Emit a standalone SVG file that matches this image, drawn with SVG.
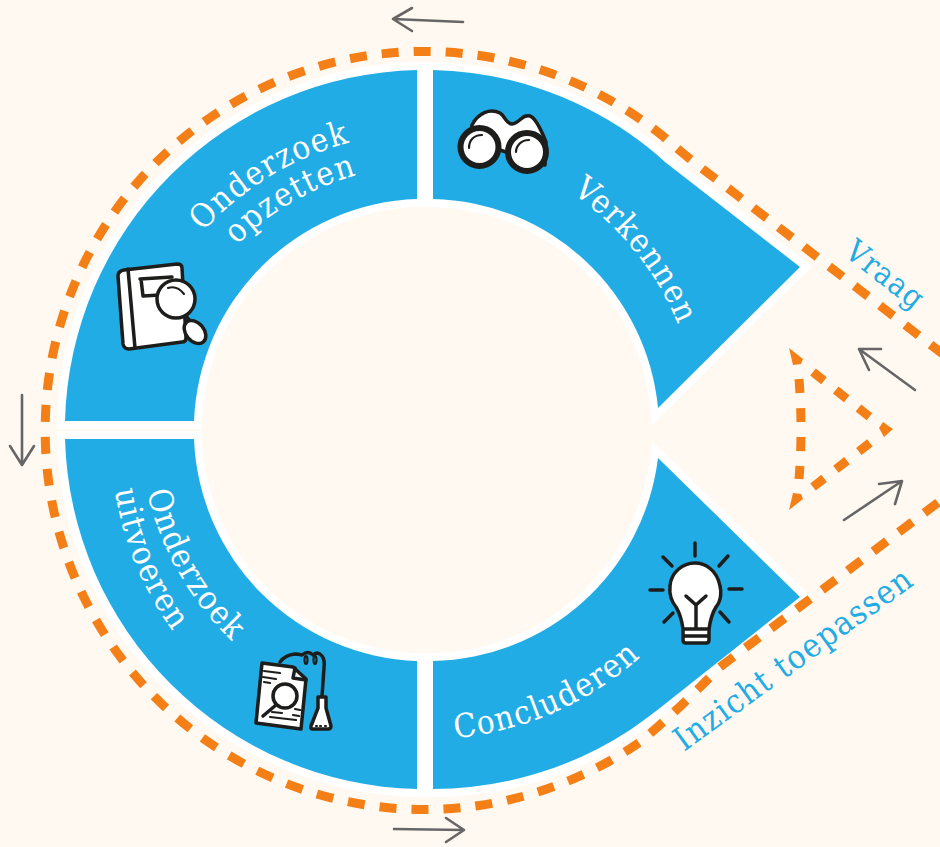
<svg xmlns="http://www.w3.org/2000/svg" width="940" height="847" viewBox="0 0 940 847">
<style>
.seg{fill:#22ace5;stroke:#fff;stroke-width:16;paint-order:stroke;stroke-linejoin:miter;stroke-miterlimit:10}
.dash{fill:none;stroke:#f47f16;stroke-width:9}
.tri{fill:#f47f16}
.arrow{fill:none;stroke:#666;stroke-width:2.600;stroke-linecap:round;stroke-linejoin:round}
.lab{font-family:"DejaVu Serif Condensed","DejaVu Serif","Liberation Serif",serif;font-size:33px;letter-spacing:1.300px;fill:#fff}
.out{font-family:"DejaVu Serif Condensed","DejaVu Serif","Liberation Serif",serif;font-size:33px;letter-spacing:1.300px;fill:#22ace5}
.ic{fill:#fff;stroke:#1d1d1b;stroke-width:3.500;stroke-linecap:round;stroke-linejoin:round}
.il{fill:none;stroke:#1d1d1b;stroke-width:3.500;stroke-linecap:round;stroke-linejoin:round}
.thin{fill:none;stroke:#1d1d1b;stroke-width:2.200;stroke-linecap:round}
</style>
<defs>
<path id="p1" d="M203 232A297 297 0 0 1 425 133"/>
<path id="p2" d="M237 245A264 264 0 0 1 425 166"/>
<path id="p3" d="M572 193A300 300 0 0 1 684 340"/>
<path id="p4" d="M455 738A320 320 0 0 0 690 600"/>
<path id="p5" d="M147 492A300 300 0 0 0 300 690"/>
<path id="p6" d="M115 490A320 320 0 0 0 290 730"/>
</defs>
<rect width="940" height="847" fill="#fff9f2"/>
<g id="verkennen">
<path class="seg" d="M433 70A360 360 0 0 1 630 134Q650 148 665 162L800 267L658 408A231 231 0 0 0 433 199Z"/>
<text class="lab"><textPath href="#p3">Verkennen</textPath></text>
<g id="binoculars">
<path class="ic" d="M472 125C478 113 490 108 500 113C505 116 506 124 512 124C520 123 522 114 530 116C536 118 542 132 546 142L545 165L500 150L470 140Z"/>
<circle cx="479.500" cy="147" r="19" fill="#fff" stroke="#1d1d1b" stroke-width="6"/>
<circle cx="527" cy="152" r="19" fill="#fff" stroke="#1d1d1b" stroke-width="6"/>
<path class="thin" stroke-width="3" d="M469 148C469 140 474 135 482 135M516 152C516 146 521 140 529 140"/>
</g>
</g>
<g id="onderzoek-opzetten">
<path class="seg" d="M417 70A360 360 0 0 0 65 421L194 421A231 231 0 0 1 417 199Z"/>
<text class="lab"><textPath href="#p1">Onderzoek</textPath></text>
<text class="lab"><textPath href="#p2">opzetten</textPath></text>
<g id="book">
<path class="ic" d="M124 270L177 264Q182 264 182 268L186 338Q186 342 182 342L129 349Q124 349 123 344L118 276Q118 271 124 270Z"/>
<path class="il" d="M128 269L135 348"/>
<path class="il" d="M140 279L172 277M141 279L143 296L160 295"/>
<circle class="ic" cx="176" cy="299" r="19"/>
<path class="il" d="M186 316L191 322"/>
<ellipse class="ic" cx="195" cy="332" rx="9" ry="13" transform="rotate(-40 195 332)"/>
<path class="thin" d="M168 288Q177 285 184 294"/>
</g>
</g>
<g id="onderzoek-uitvoeren">
<path class="seg" d="M65 439A360 360 0 0 0 417 789L417 661A231 231 0 0 1 194 439Z"/>
<text class="lab"><textPath href="#p5">Onderzoek</textPath></text>
<text class="lab"><textPath href="#p6">uitvoeren</textPath></text>
<g id="experiment">
<path class="il" d="M280 662Q285 655 295 654Q298 654 302 655Q308 650 313 655Q318 651 322 656Q325 660 324 668L322 696"/>
<path class="ic" d="M262 663L293 667L306 679L301 729L256 723Z"/>
<path class="il" d="M295 668L293 678L306 680"/>
<circle class="ic" fill="none" cx="285" cy="696" r="12"/>
<path class="il" d="M276 705L263 716"/>
<path class="thin" d="M264 671L280 673M263 677L276 679M264 682L270 683M270 717L296 720M272 712L282 713M295 709L300 710M293 715L299 716"/>
<ellipse class="thin" cx="306" cy="660" rx="1.500" ry="4"/>
<ellipse class="thin" cx="315" cy="660" rx="1.500" ry="4"/>
<path class="ic" d="M318 697L326 697L326 708L331 726Q331 729 328 729L313 729Q310 729 311 726L318 708Z"/>
<path class="thin" d="M316 726L317 726M320 726L321 726M325 726L326 726"/>
</g>
</g>
<g id="concluderen">
<path class="seg" d="M433 789A360 360 0 0 0 630 730Q650 716 665 704L800 597L658 458A231 231 0 0 1 433 661Z"/>
<text class="lab"><textPath href="#p4">Concluderen</textPath></text>
<g id="bulb">
<path class="ic" d="M683 629L683 640Q683 643 686 643L706 643Q709 643 709 640L709 629Q711 615 716 607C722 600 721 590 720 586C717 570 705 563 695 563C683 563 671 572 670 586C669 595 672 602 676 607Q681 615 683 629Z"/>
<path class="il" d="M683 629L709 629M684 636L708 636"/>
<path class="il" d="M686 596L696 605L706 596M696 605L696 628"/>
<path class="il" d="M695 543L695 556M663 557L672 566M728 556L719 566M650 590L663 590M729 589L742 589M664 622L673 613M729 622L720 612"/>
</g>
</g>
<circle id="hub" cx="425" cy="430" r="222" fill="#fff9f2"/>
<g id="connectors">
<path class="dash" stroke-dasharray="17 15" d="M944 355L720 182Q690 160 664 137A379 379 0 1 0 640 742Q672 716 720 667L944 498"/>
<path class="arrow" d="M463 22L393 19M412 8L393 19L412 31"/>
<path class="arrow" d="M22 395L22 465M10 446L22 465L34 446"/>
<path class="arrow" d="M394 829L464 830M446 818L464 830L446 842"/>
<path class="arrow" d="M915 390L859 349M881 349L859 349L869 370"/>
<path class="arrow" d="M844 520L902 481M879 484L902 481L895 504"/>
</g>
<g id="loop">
<path class="dash" stroke-dasharray="14 15" d="M813 372L871 418"/>
<path class="dash" stroke-dasharray="14 15" d="M799 379Q803 430 799 479"/>
<path class="dash" stroke-dasharray="14 15" d="M813 487L871 442"/>
<polygon class="tri" points="789,348 803,359 801,364 793,365"/>
<polygon class="tri" points="893,429 884,437 879,428 883,422"/>
<polygon class="tri" points="789,510 803,499 801,494 793,493"/>
</g>
<text id="vraag" class="out" style="font-size:31px" transform="translate(843 255) rotate(38)">Vraag</text>
<text id="inzicht" class="out" transform="translate(684 752) rotate(-36)">Inzicht toepassen</text>
</svg>
